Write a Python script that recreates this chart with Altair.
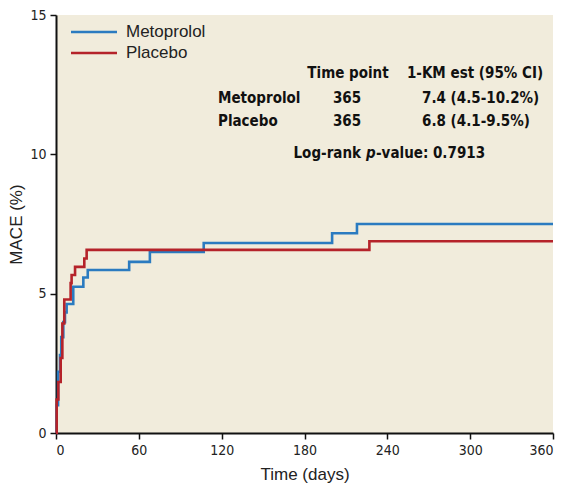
import altair as alt
import pandas as pd

# Kaplan-Meier style cumulative incidence (step functions)
meto_days = [0, 0.5, 1.5, 2.9, 3.8, 5.3, 6.5, 7.7, 12.5, 19.8, 23, 53, 68, 107, 200, 218, 360]
meto_pct = [0, 1.0, 2.2, 2.8, 3.44, 3.98, 4.33, 4.63, 5.25, 5.58, 5.85, 6.14, 6.5, 6.82, 7.17, 7.5, 7.5]
plac_days = [0, 0.5, 1.7, 3.4, 4.6, 6, 10.6, 11.3, 13.8, 20.5, 22.2, 227, 360]
plac_pct = [0, 1.2, 1.83, 2.69, 3.93, 4.79, 5.38, 5.67, 5.96, 6.26, 6.57, 6.88, 6.88]

groups = ["Metoprolol", "Placebo"]
colors = ["#2b7bc0", "#b5232a"]
x_ticks = [0, 60, 120, 180, 240, 300, 360]
y_ticks = [0, 5, 10, 15]

narrow = "DejaVu Sans Condensed"
regular = "Liberation Sans"

df = pd.concat([
    pd.DataFrame({"day": meto_days, "pct": meto_pct, "group": "Metoprolol", "order": range(len(meto_days))}),
    pd.DataFrame({"day": plac_days, "pct": plac_pct, "group": "Placebo", "order": range(len(plac_days))}),
])

lines = alt.Chart(df).mark_line(interpolate="step-after", strokeWidth=2.6).encode(
    x=alt.X("day:Q", scale=alt.Scale(domain=[0, 360], nice=False),
            axis=alt.Axis(values=x_ticks, title="Time (days)", grid=False)),
    y=alt.Y("pct:Q", scale=alt.Scale(domain=[0, 15], nice=False),
            axis=alt.Axis(values=y_ticks, title="MACE (%)", grid=False)),
    color=alt.Color("group:N", scale=alt.Scale(domain=groups, range=colors), legend=None),
    order="order:Q",
)

# Manual legend (inside top-left of plot)
legend_layers = []
for i, (g, c) in enumerate(zip(groups, colors)):
    yy = 17 + 21 * i
    legend_layers.append(
        alt.Chart(pd.DataFrame({"g": [g]})).mark_rule(color=c, strokeWidth=2.6).encode(
            x=alt.value(15), x2=alt.value(61), y=alt.value(yy))
    )
    legend_layers.append(
        alt.Chart(pd.DataFrame({"g": [g]})).mark_text(
            align="left", baseline="middle", font=regular, fontSize=17, color="#222222"
        ).encode(text="g:N", x=alt.value(70), y=alt.value(yy))
    )

# Annotation table
hdr = ["Time point", "1-KM est (95% CI)"]
rows = ["Metoprolol", "Placebo"]
tpoints = ["365", "365"]
ests = ["7.4 (4.5-10.2%)", "6.8 (4.1-9.5%)"]

def txt(t, x, y, align="left", italic=False):
    return alt.Chart(pd.DataFrame({"t": [t]})).mark_text(
        align=align, baseline="middle", font=narrow, fontSize=15, fontWeight="bold",
        fontStyle="italic" if italic else "normal", color="#111111"
    ).encode(text="t:N", x=alt.value(x), y=alt.value(y))

ann = [
    txt(hdr[0], 292, 58, "center"),
    txt(hdr[1], 419, 58, "center"),
    txt(rows[0], 162, 83), txt(rows[1], 162, 106),
    txt(tpoints[0], 291, 83, "center"), txt(tpoints[1], 291, 106, "center"),
    txt(ests[0], 366, 83), txt(ests[1], 366, 106),
    txt("Log-rank", 305, 138, "right"),
    txt("p", 310, 138, "left", italic=True),
    txt("-value: 0.7913", 320, 138),
]

chart = alt.layer(lines, *legend_layers, *ann).properties(
    width=497, height=418,
    padding={"left": 48, "top": 7, "right": 3, "bottom": 50},
    autosize=alt.AutoSizeParams(type="none"),
    background="white",
).configure_view(
    fill="#f1ecdc", stroke=None
).configure_axis(
    domainColor="#111111", domainWidth=2, tickColor="#111111", tickWidth=1.5, tickSize=6,
    labelFont=narrow, labelFontSize=14, labelColor="#222222", labelPadding=4,
    titleFont=regular, titleFontSize=17, titleFontWeight="normal", titleColor="#222222",
).configure_axisX(titlePadding=9).configure_axisY(titlePadding=4)

chart.save("out.html", embed_options={"renderer": "svg", "actions": False})
